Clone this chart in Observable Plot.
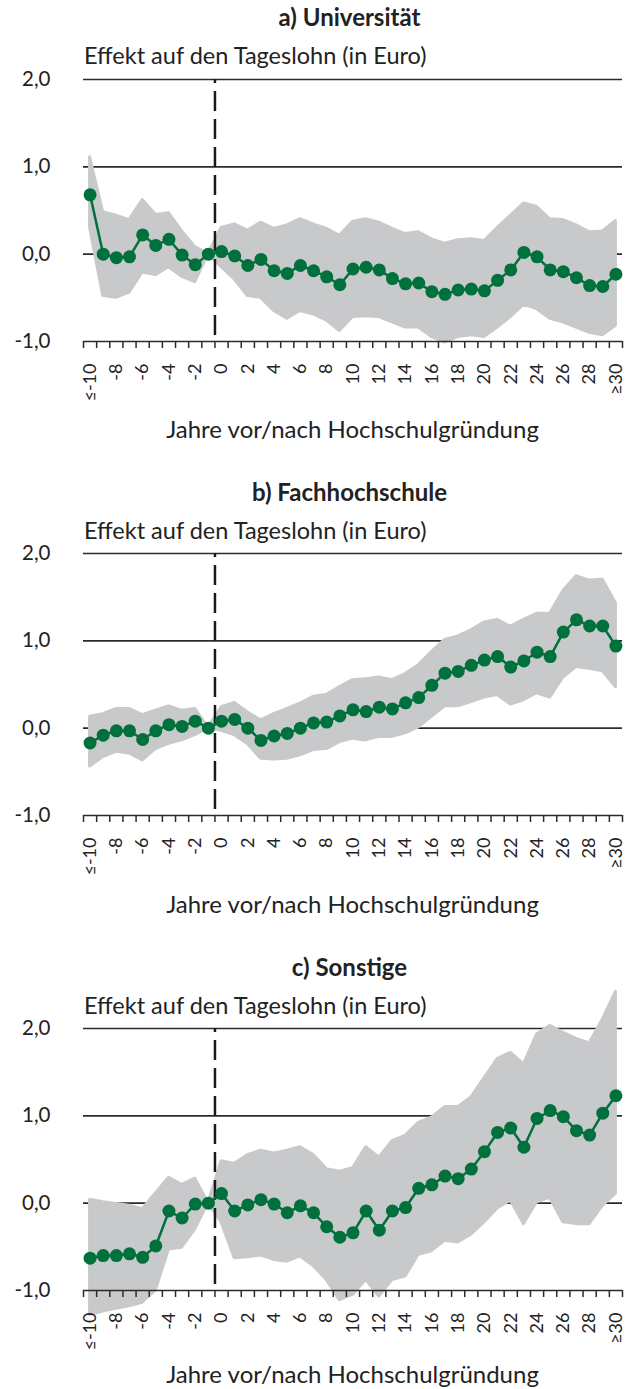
<!DOCTYPE html>
<html><head><meta charset="utf-8">
<script src="https://cdn.jsdelivr.net/npm/d3@7"></script>
<script src="https://cdn.jsdelivr.net/npm/@observablehq/plot@0.6"></script>
<style>
body{margin:0;background:#fff;font-family:Lato, sans-serif;color:#222}
#root{position:relative;width:637px;height:1389px;overflow:hidden}
.panel{position:absolute;left:0;width:637px;height:475px;}
.panel svg{position:absolute;left:0;}
.title{position:absolute;left:80px;width:539px;text-align:center;font-weight:bold;font-size:24px;line-height:1;white-space:nowrap}
.sub{position:absolute;left:84px;font-size:23.5px;line-height:1;white-space:nowrap}
.xlab{position:absolute;left:83px;width:539px;text-align:center;font-size:24px;line-height:1;white-space:nowrap}
</style></head><body><div id="root"></div>
<script>
const years = [-10,-9,-8,-7,-6,-5,-4,-3,-2,-1,0,1,2,3,4,5,6,7,8,9,10,11,12,13,14,15,16,17,18,19,20,21,22,23,24,25,26,27,28,29,30];
const labelYears = [-10,-8,-6,-4,-2,0,2,4,6,8,10,12,14,16,18,20,22,24,26,28,30];
const labelText = ["≤-10","-8","-6","-4","-2","0","2","4","6","8","10","12","14","16","18","20","22","24","26","28","≥30"];
const yTicks = [-1,0,1,2];
const gridVals = [0,1,2];

const titles = ["a) Universität","b) Fachhochschule","c) Sonstige"];
const subtitle = "Effekt auf den Tageslohn (in Euro)";
const xTitle = "Jahre vor/nach Hochschulgründung";

// a) Universität
const aEff = [0.68,0.00,-0.04,-0.03,0.22,0.10,0.17,-0.01,-0.12,0.00,0.03,-0.02,-0.13,-0.06,-0.19,-0.22,-0.13,-0.19,-0.26,-0.35,-0.17,-0.15,-0.18,-0.28,-0.34,-0.33,-0.43,-0.46,-0.41,-0.40,-0.42,-0.30,-0.18,0.02,-0.03,-0.18,-0.20,-0.27,-0.36,-0.37,-0.23];
const aHi = [1.11,0.48,0.44,0.39,0.62,0.45,0.47,0.26,0.08,0.00,0.30,0.34,0.27,0.36,0.29,0.33,0.40,0.34,0.29,0.21,0.37,0.40,0.36,0.29,0.23,0.25,0.17,0.12,0.16,0.17,0.15,0.30,0.44,0.58,0.54,0.40,0.39,0.33,0.25,0.26,0.38];
const aLo = [0.30,-0.48,-0.50,-0.44,-0.21,-0.24,-0.15,-0.26,-0.32,0.00,-0.15,-0.29,-0.48,-0.50,-0.65,-0.74,-0.65,-0.69,-0.76,-0.88,-0.72,-0.71,-0.72,-0.78,-0.84,-0.84,-0.95,-1.01,-0.95,-0.93,-0.95,-0.84,-0.72,-0.58,-0.63,-0.74,-0.78,-0.84,-0.90,-0.93,-0.82];

// b) Fachhochschule
const bEff = [-0.17,-0.08,-0.03,-0.03,-0.13,-0.03,0.04,0.02,0.08,0.00,0.08,0.10,0.00,-0.14,-0.09,-0.06,0.00,0.06,0.07,0.14,0.21,0.19,0.24,0.22,0.29,0.35,0.49,0.63,0.65,0.72,0.78,0.82,0.70,0.77,0.87,0.82,1.10,1.24,1.17,1.17,0.94];
const bHi = [0.13,0.16,0.22,0.22,0.15,0.20,0.25,0.20,0.22,0.00,0.24,0.29,0.18,0.09,0.16,0.22,0.28,0.36,0.38,0.47,0.55,0.56,0.58,0.55,0.62,0.72,0.87,1.01,1.05,1.12,1.21,1.24,1.16,1.24,1.31,1.31,1.57,1.74,1.69,1.70,1.43];
const bLo = [-0.44,-0.33,-0.27,-0.29,-0.37,-0.24,-0.18,-0.14,-0.08,0.00,-0.03,-0.08,-0.18,-0.35,-0.36,-0.35,-0.31,-0.25,-0.24,-0.16,-0.12,-0.14,-0.10,-0.10,-0.06,0.01,0.13,0.25,0.25,0.30,0.35,0.38,0.27,0.32,0.40,0.35,0.58,0.70,0.68,0.65,0.47];

// c) Sonstige
const cEff = [-0.63,-0.60,-0.60,-0.58,-0.62,-0.49,-0.09,-0.17,-0.01,0.00,0.11,-0.09,-0.02,0.04,-0.01,-0.11,-0.03,-0.11,-0.27,-0.39,-0.34,-0.09,-0.31,-0.09,-0.05,0.17,0.21,0.31,0.28,0.39,0.59,0.81,0.86,0.64,0.97,1.06,0.99,0.83,0.78,1.03,1.23];
const cHi = [0.04,0.01,-0.01,-0.03,-0.07,0.11,0.29,0.21,0.28,0.00,0.48,0.45,0.55,0.60,0.57,0.60,0.64,0.55,0.39,0.36,0.40,0.64,0.52,0.71,0.77,0.92,0.98,1.10,1.10,1.21,1.43,1.65,1.72,1.59,1.93,2.03,1.95,1.88,1.83,2.10,2.42];
const cLo = [-1.28,-1.24,-1.21,-1.18,-1.14,-1.00,-0.53,-0.51,-0.30,0.00,-0.22,-0.63,-0.62,-0.60,-0.65,-0.67,-0.61,-0.72,-0.88,-1.11,-1.05,-0.88,-1.07,-0.88,-0.84,-0.59,-0.55,-0.43,-0.45,-0.36,-0.22,-0.06,0.03,-0.24,0.01,0.06,-0.22,-0.24,-0.24,-0.03,0.11];

const green = "#00703c";
const band = "#c8c9cb";
const ink = "#2b2b2b";
const boundaries = years.map(y => y - 0.5).concat([years[years.length - 1] + 0.5]);
const labelMap = new Map(labelYears.map((y, i) => [y, labelText[i]]));
const fmt = d => d.toFixed(1).replace(".", ",");

const root = document.getElementById("root");

function panel(title, eff, lo, hi, top, xlabTop) {
  const data = years.map((x, i) => ({x, v: eff[i], lo: lo[i], hi: hi[i]}));
  const div = document.createElement("div");
  div.className = "panel";
  div.style.top = top + "px";
  const svg = Plot.plot({
    width: 637, height: 382,
    marginLeft: 83, marginRight: 15, marginTop: 50, marginBottom: 70,
    style: {background: "transparent", overflow: "visible", fontFamily: "Lato, sans-serif", color: ink},
    x: {domain: [boundaries[0], boundaries[boundaries.length - 1]]},
    y: {domain: [-1, 2]},
    marks: [
      Plot.ruleY(gridVals, {stroke: ink, strokeWidth: 1.6}),
      Plot.areaY(data, {x: "x", y1: "lo", y2: "hi", fill: band, stroke: band, strokeWidth: 3, strokeLinejoin: "round"}),
      Plot.ruleX([-0.5], {y1: -0.93, y2: 2, stroke: "#1a1a1a", strokeWidth: 2.5, strokeDasharray: "20,8"}),
      Plot.ruleY([-1], {stroke: ink, strokeWidth: 1.6}),
      Plot.axisX(boundaries, {tickSize: 7, tickFormat: () => "", label: null, stroke: ink, strokeWidth: 1.5}),
      Plot.text(labelYears, {x: d => d, text: d => labelMap.get(d), frameAnchor: "bottom", rotate: -90, textAnchor: "end", lineAnchor: "middle", dy: 22, fontSize: 18, fill: "#222"}),
      Plot.axisY(yTicks, {tickSize: 0, tickPadding: 33, tickFormat: fmt, label: null, fontSize: 20.5, fill: "#222"}),
      Plot.line(data, {x: "x", y: "v", stroke: green, strokeWidth: 2.5}),
      Plot.dot(data, {x: "x", y: "v", r: 6.5, fill: green})
    ]
  });
  svg.style.top = "28.7px";
  div.appendChild(svg);
  const t = document.createElement("div"); t.className = "title"; t.textContent = title; t.style.top = "5px";
  const s = document.createElement("div"); s.className = "sub"; s.textContent = subtitle; s.style.top = "44px";
  const xl = document.createElement("div"); xl.className = "xlab"; xl.textContent = xTitle; xl.style.top = xlabTop + "px";
  div.appendChild(t); div.appendChild(s); div.appendChild(xl);
  root.appendChild(div);
}

panel(titles[0], aEff, aLo, aHi, 0, 417);
panel(titles[1], bEff, bLo, bHi, 474.5, 417);
panel(titles[2], cEff, cLo, cHi, 949.5, 412);
</script></body></html>
